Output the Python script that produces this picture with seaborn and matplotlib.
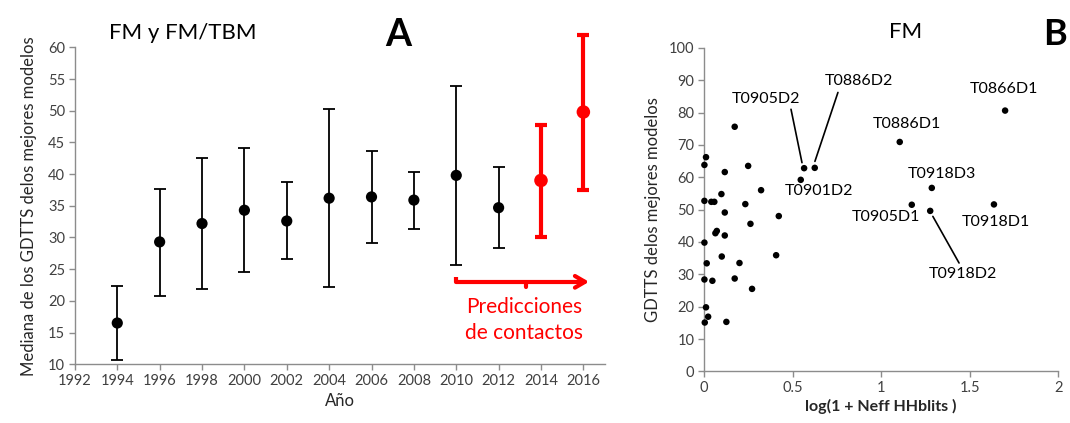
import numpy as np
import pandas as pd
import matplotlib
matplotlib.use("Agg")
import matplotlib.pyplot as plt
import seaborn as sns

# ---------------- data ----------------
years = [1994, 1996, 1998, 2000, 2002, 2004, 2006, 2008, 2010, 2012, 2014, 2016]
median_gdtts = [16.5, 29.3, 32.2, 34.3, 32.6, 36.2, 36.4, 35.9, 39.8, 34.7, 39.0, 49.8]
upper_gdtts = [22.3, 37.7, 42.5, 44.1, 38.7, 50.2, 43.7, 40.4, 53.9, 41.1, 47.8, 62.0]
lower_gdtts = [10.6, 20.8, 21.9, 24.5, 26.6, 22.2, 29.1, 31.3, 25.6, 28.3, 30.0, 37.5]
contact_pred = [False] * 10 + [True, True]

neff_log = [0.011, 0.002, 0.117, 0.249, 0.322, 0.002, 0.041, 0.058, 0.098, 0.233,
            0.117, 0.422, 0.262, 0.064, 0.072, 0.117, 0.002, 0.100, 0.407, 0.015,
            0.200, 0.002, 0.047, 0.173, 0.271, 0.011, 0.023, 0.004, 0.126, 0.173,
            0.565, 0.625, 0.546, 1.105, 1.700, 1.286, 1.173, 1.277, 1.637]
best_gdtts = [66.2, 63.8, 61.6, 63.5, 56.0, 52.7, 52.4, 52.4, 54.8, 51.7,
              49.1, 48.0, 45.6, 42.7, 43.4, 42.0, 39.8, 35.5, 35.9, 33.4,
              33.5, 28.4, 28.0, 28.7, 25.5, 19.8, 16.9, 15.1, 15.3, 75.6,
              62.8, 62.9, 59.2, 70.9, 80.6, 56.7, 51.5, 49.6, 51.6]
target_names = ["T0905D2", "T0886D2", "T0901D2", "T0886D1", "T0866D1",
                "T0918D3", "T0905D1", "T0918D2", "T0918D1"]
target_x = [0.565, 0.625, 0.546, 1.105, 1.700, 1.286, 1.173, 1.277, 1.637]
target_y = [62.8, 62.9, 59.2, 70.9, 80.6, 56.7, 51.5, 49.6, 51.6]
label_x = [0.35, 0.872, 0.649, 1.148, 1.691, 1.343, 1.029, 1.462, 1.650]
label_y = [84.1, 89.6, 55.6, 76.5, 87.2, 61.0, 47.7, 30.1, 46.2]

yearly = pd.DataFrame({"year": years, "median": median_gdtts,
                       "upper": upper_gdtts, "lower": lower_gdtts,
                       "contact": contact_pred})
scatter = pd.DataFrame({"x": neff_log, "y": best_gdtts})

# ---------------- style ----------------
sns.set_theme(style="white")
plt.rcParams["font.family"] = ["Lato", "DejaVu Sans"]
axis_gray = "#8c8c8c"
red = "#ff0000"

fig = plt.figure(figsize=(10.70, 4.23), dpi=100)
axA = fig.add_axes([0.070, 0.139, 0.495, 0.749])
axB = fig.add_axes([0.658, 0.122, 0.331, 0.765])

def style_axis(ax):
    for s in ["top", "right"]:
        ax.spines[s].set_visible(False)
    for s in ["left", "bottom"]:
        ax.spines[s].set_color(axis_gray)
        ax.spines[s].set_linewidth(1.0)
    ax.tick_params(axis="both", which="major", direction="out", length=4,
                   width=1.0, color=axis_gray, labelsize=10.5,
                   labelcolor="#404040", pad=3, bottom=True, left=True)

# ---------------- panel A ----------------
for is_red, sub in yearly.groupby("contact"):
    col = red if is_red else "black"
    lw = 3.0 if is_red else 1.3
    ax_err = np.vstack([sub["median"] - sub["lower"], sub["upper"] - sub["median"]])
    axA.errorbar(sub["year"], sub["median"], yerr=ax_err, fmt="none",
                 ecolor=col, elinewidth=lw, capsize=4, capthick=lw,
                 clip_on=False, zorder=2)
sns.scatterplot(data=yearly[~yearly["contact"]], x="year", y="median", ax=axA,
                color="black", s=65, edgecolor="none", zorder=3, clip_on=False)
sns.scatterplot(data=yearly[yearly["contact"]], x="year", y="median", ax=axA,
                color=red, s=95, edgecolor="none", zorder=3, clip_on=False)

axA.set_xlim(1992, 2017)
axA.set_ylim(10, 60)
axA.set_xticks(range(1992, 2017, 2))
axA.set_yticks(range(10, 61, 5))
style_axis(axA)
axA.set_xlabel("Año", fontsize=12, color="#262626", labelpad=4)
axA.set_ylabel("Mediana de los GDTTS delos mejores modelos", fontsize=12,
               color="#262626", labelpad=8)

# bracket arrow for contact predictions
axA.plot([2010, 2010, 2016.0], [23.8, 23.0, 23.0], color=red, lw=3,
         clip_on=False, solid_capstyle="butt", zorder=2)
axA.plot([2013.3, 2013.3], [23.0, 22.2], color=red, lw=3, clip_on=False, zorder=2)
axA.annotate("", xy=(2016.4, 23.0), xytext=(2015.6, 23.0),
             arrowprops=dict(arrowstyle="->,head_length=0.6,head_width=0.35",
                             color=red, lw=3), annotation_clip=False)
axA.text(2013.2, 17.0, "Predicciones\nde contactos", color=red, fontsize=15,
         ha="center", va="center", linespacing=1.35)

axA.text(0.065, 1.045, "FM y FM/TBM", transform=axA.transAxes, fontsize=16,
         ha="left", va="center", color="black")
axA.text(0.61, 1.04, "A", transform=axA.transAxes, fontsize=27,
         fontweight="bold", ha="center", va="center", color="black")

# ---------------- panel B ----------------
sns.scatterplot(data=scatter, x="x", y="y", ax=axB, color="black", s=22,
                edgecolor="none", zorder=3, clip_on=False)
axB.set_xlim(0, 2)
axB.set_ylim(0, 100)
axB.set_xticks([0, 0.5, 1, 1.5, 2])
axB.set_xticklabels(["0", "0.5", "1", "1.5", "2"])
axB.set_yticks(range(0, 101, 10))
style_axis(axB)
axB.set_xlabel("log(1 + Neff HHblits )", fontsize=11.5, fontweight="bold",
               color="#262626", labelpad=3)
axB.set_ylabel("GDTTS delos mejores modelos", fontsize=12, color="#262626",
               labelpad=6)

for name, lx, ly in zip(target_names, label_x, label_y):
    axB.text(lx, ly, name, fontsize=11.5, ha="center", va="center", color="black")

leader_lines = {"T0905D2": ((0.491, 81.0), (0.553, 64.5)),
                "T0886D2": ((0.756, 86.2), (0.626, 64.9)),
                "T0918D2": ((1.292, 47.9), (1.440, 33.5))}
for (x0, y0), (x1, y1) in leader_lines.values():
    axB.plot([x0, x1], [y0, y1], color="black", lw=1.2, zorder=2)

axB.text(0.57, 1.05, "FM", transform=axB.transAxes, fontsize=16,
         ha="center", va="center", color="black")
axB.text(0.99, 1.04, "B", transform=axB.transAxes, fontsize=26,
         fontweight="bold", ha="center", va="center", color="black")

fig.savefig("out.png", dpi=100)
